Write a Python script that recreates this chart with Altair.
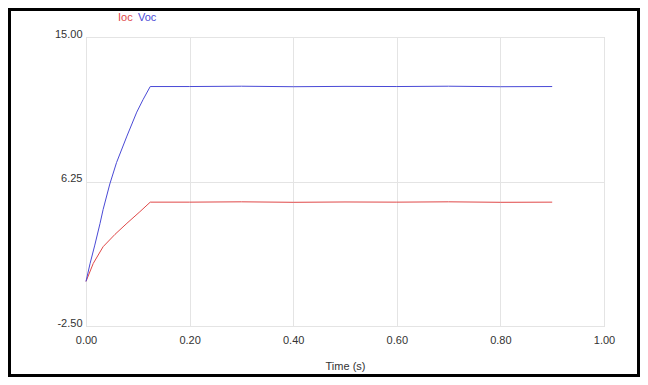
import altair as alt
import pandas as pd

# Series data
voc_t = [0.0, 0.008, 0.017, 0.027, 0.033, 0.046, 0.059, 0.079, 0.098, 0.110, 0.124,
         0.20, 0.30, 0.40, 0.50, 0.60, 0.70, 0.80, 0.90]
voc_v = [0.2, 1.3, 2.40, 3.70, 4.55, 6.10, 7.40, 9.00, 10.45, 11.20, 12.0,
         12.0, 12.02, 11.99, 12.01, 12.0, 12.02, 11.99, 12.0]
ioc_t = [0.0, 0.014, 0.033, 0.056, 0.079, 0.104, 0.124,
         0.20, 0.30, 0.40, 0.50, 0.60, 0.70, 0.80, 0.90]
ioc_v = [0.2, 1.29, 2.30, 3.05, 3.72, 4.42, 5.0,
         5.0, 5.02, 4.99, 5.01, 5.0, 5.02, 4.99, 5.0]
series_names = ["Ioc", "Voc"]
series_colors = ["#e04848", "#4a4ad6"]
x_ticks = [0.0, 0.2, 0.4, 0.6, 0.8, 1.0]
y_ticks = [-2.5, 6.25, 15.0]

df = pd.concat([
    pd.DataFrame({"t": ioc_t, "v": ioc_v, "series": "Ioc"}),
    pd.DataFrame({"t": voc_t, "v": voc_v, "series": "Voc"}),
])

W, H = 518, 289
PL, PT = 78, 29
TOTW, TOTH = 632, 369

color_scale = alt.Scale(domain=series_names, range=series_colors)

lines = alt.Chart(df).mark_line(strokeWidth=1, interpolate="linear").encode(
    x=alt.X("t:Q", scale=alt.Scale(domain=[0, 1], nice=False),
            axis=alt.Axis(values=x_ticks, format=".2f", title="Time (s)",
                          grid=True, ticks=False, domain=False, labelFlush=False,
                          labelPadding=8, titlePadding=15)),
    y=alt.Y("v:Q", scale=alt.Scale(domain=[-2.5, 15], nice=False, zero=False),
            axis=alt.Axis(values=y_ticks, title=None,
                          labelExpr="replace(format(datum.value, '.2f'), '\u2212', '-')",
                          grid=True, ticks=False, domain=False,
                          labelPadding=4, labelOffset=-3, labelFlush=False)),
    color=alt.Color("series:N", scale=color_scale, legend=None),
    detail="series:N",
)

legend_df = pd.DataFrame({"series": series_names})
leg_ioc = alt.Chart(legend_df[legend_df.series == "Ioc"]).mark_text(
    align="left", baseline="middle", fontSize=11, font="Liberation Sans"
).encode(text="series:N", color=alt.Color("series:N", scale=color_scale, legend=None),
         x=alt.value(110 - PL), y=alt.value(10 - PT))
leg_voc = alt.Chart(legend_df[legend_df.series == "Voc"]).mark_text(
    align="left", baseline="middle", fontSize=11, font="Liberation Sans"
).encode(text="series:N", color=alt.Color("series:N", scale=color_scale, legend=None),
         x=alt.value(130 - PL), y=alt.value(10 - PT))

border = alt.Chart(legend_df.head(1)).mark_rect(
    fill=None, stroke="black", strokeWidth=3
).encode(x=alt.value(-PL + 1.5), x2=alt.value(TOTW - PL - 1.5),
         y=alt.value(-PT + 1.5), y2=alt.value(TOTH - PT - 1.5))

chart = alt.layer(lines, leg_ioc, leg_voc, border).properties(
    width=W, height=H,
    autosize=alt.AutoSizeParams(type="none"),
    padding={"left": PL, "top": PT, "right": TOTW - PL - W, "bottom": TOTH - PT - H},
    background="white",
).configure_view(
    stroke="#cfcfcf", strokeWidth=1
).configure_axis(
    labelFont="Liberation Sans", labelFontSize=11, labelColor="#333333",
    titleFont="Liberation Sans", titleFontSize=11, titleColor="#333333",
    titleFontWeight="normal", gridColor="#e4e4e4", gridWidth=1,
)

chart.save("out.html", embed_options={"renderer": "svg", "actions": False})
